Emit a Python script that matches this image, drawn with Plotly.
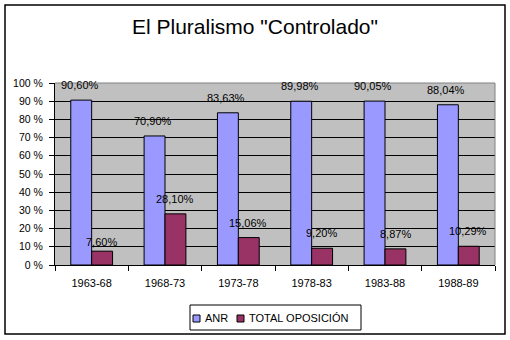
import plotly.graph_objects as go

categories = ["1963-68", "1968-73", "1973-78", "1978-83", "1983-88", "1988-89"]
anr = [90.60, 70.90, 83.63, 89.98, 90.05, 88.04]
oposicion = [7.60, 28.10, 15.06, 9.20, 8.87, 10.29]
series_names = ["ANR", "TOTAL OPOSICIÓN"]
series_colors = ["#9999FF", "#993366"]
ytick_vals = [0, 10, 20, 30, 40, 50, 60, 70, 80, 90, 100]
ytick_text = [f"{v} %" for v in ytick_vals]

FONT = "Liberation Sans, Arial, sans-serif"

def fmt(v):
    return f"{v:.2f}".replace(".", ",") + "%"

fig = go.Figure()
for name, vals, col in zip(series_names, [anr, oposicion], series_colors):
    fig.add_trace(go.Bar(x=categories, y=vals, name=name, showlegend=False,
                         marker=dict(color=col, line=dict(color="black", width=1))))

ann = []
for c, a, o in zip(categories, anr, oposicion):
    ann.append(dict(x=c, y=a, xref="x", yref="y", text=fmt(a), showarrow=False,
                    xshift=-12, yshift=15, font=dict(family=FONT, size=11, color="black")))
    ann.append(dict(x=c, y=o, xref="x", yref="y", text=fmt(o), showarrow=False,
                    xshift=10, yshift=15 if o > 8 else 9, font=dict(family=FONT, size=11, color="black")))

# plot area: x 55..495 (440 px), y 83..265 (182 px)
W, H = 440.0, 182.0
def px(x):
    return (x - 55) / W
def py(y):
    return (265 - y) / H

shapes = [
    dict(type="line", xref="paper", yref="paper", x0=0, x1=1, y0=1, y1=1,
         line=dict(color="#808080", width=1), layer="above"),
    dict(type="line", xref="paper", yref="paper", x0=1, x1=1, y0=0, y1=1,
         line=dict(color="#808080", width=1), layer="above"),
    dict(type="rect", xref="paper", yref="paper", x0=px(5), x1=px(505),
         y0=py(334), y1=py(5), line=dict(color="black", width=1.5)),
    # legend box
    dict(type="rect", xref="paper", yref="paper", x0=px(190), x1=px(361),
         y0=py(330), y1=py(305), line=dict(color="black", width=1), fillcolor="white"),
]
leg_x = [193, 237]
for name, col, lx in zip(series_names, series_colors, leg_x):
    shapes.append(dict(type="rect", xref="paper", yref="paper", x0=px(lx), x1=px(lx + 7),
                       y0=py(322), y1=py(315), fillcolor=col,
                       line=dict(color="black", width=1)))
    ann.append(dict(x=px(lx + 10), y=py(317.5), xref="paper", yref="paper", text=name,
                    showarrow=False, xanchor="left", yanchor="middle",
                    font=dict(family=FONT, size=11, color="black")))

fig.update_layout(
    width=510, height=340,
    margin=dict(l=55, r=15, t=83, b=75),
    paper_bgcolor="white", plot_bgcolor="#C0C0C0",
    barmode="group", bargap=0.43, bargroupgap=0,
    showlegend=False,
    title=dict(text='El Pluralismo "Controlado"', x=0.5, xanchor="center",
               y=1 - 27 / 340, yanchor="middle", yref="container",
               font=dict(family=FONT, size=21, color="black")),
    font=dict(family=FONT, size=10, color="black"),
    xaxis=dict(showline=True, linecolor="black", linewidth=1, ticks="outside",
               tickson="boundaries", ticklen=5, tickcolor="black",
               ticklabelstandoff=8,
               tickfont=dict(family=FONT, size=11), showgrid=False),
    yaxis=dict(range=[0, 100], tickvals=ytick_vals, ticktext=ytick_text,
               showline=True, linecolor="black", linewidth=1, ticks="outside",
               ticklen=5, tickcolor="black", showgrid=True, gridcolor="black",
               ticklabelstandoff=4,
               gridwidth=1, zeroline=False, tickfont=dict(family=FONT, size=10.5)),
    annotations=ann,
    shapes=shapes,
)

fig.write_html("out.html")
